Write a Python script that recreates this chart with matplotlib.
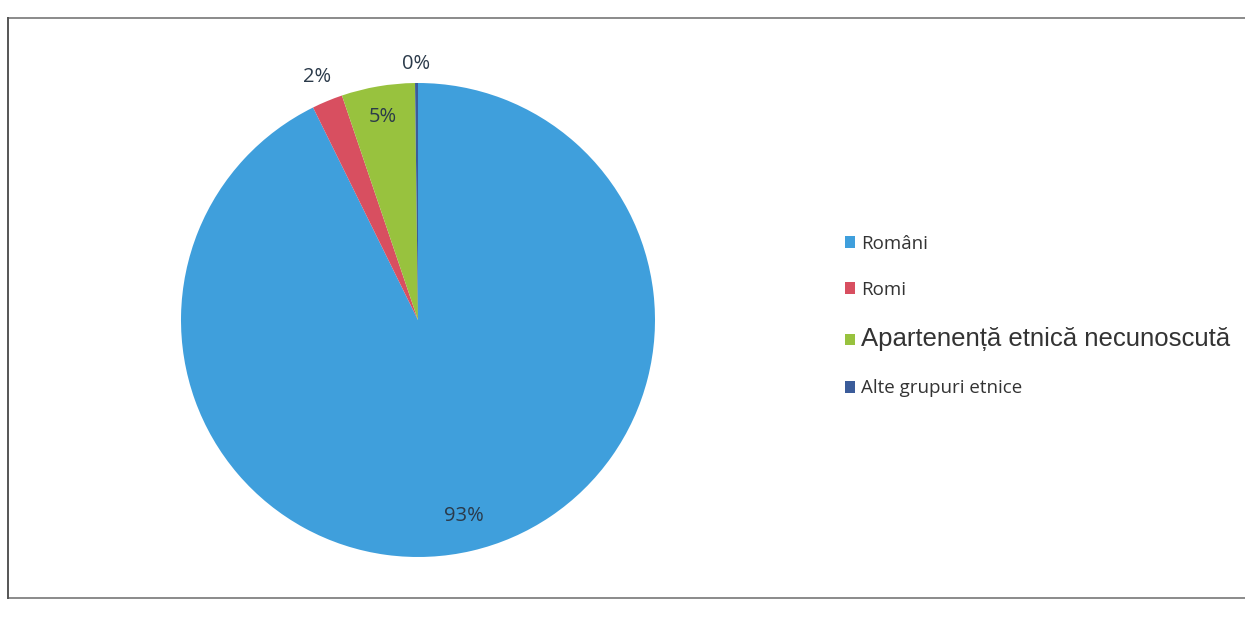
import numpy as np
import matplotlib.pyplot as plt
from matplotlib.lines import Line2D
from matplotlib.patches import Patch

# ethnic structure shares
labels = ["Români", "Romi", "Apartenență etnică necunoscută", "Alte grupuri etnice"]
values = [92.7, 2.1, 5.0, 0.2]
pct_text = ["93%", "2%", "5%", "0%"]
colors = ["#3f9fdc", "#d84f60", "#98c23e", "#3b5c9a"]

W, H = 1245, 624
fig = plt.figure(figsize=(W / 100, H / 100), dpi=100)

# pie centre ~ (418, 320) px, radius ~ 237 px
cx, cy, r = 418, 320, 237
ax = fig.add_axes([(cx - r) / W, (H - cy - r) / H, 2 * r / W, 2 * r / H])
wedges, _ = ax.pie(values, colors=colors, startangle=90, counterclock=False,
                   radius=1, wedgeprops=dict(linewidth=0))
ax.set_xlim(-1, 1)
ax.set_ylim(-1, 1)
ax.set_aspect("equal")
ax.axis("off")

# data labels: inside for big slices, just outside for thin ones
dist = [0.85, 1.11, 0.87, 1.08]
for w, t, d in zip(wedges, pct_text, dist):
    ang = np.deg2rad((w.theta1 + w.theta2) / 2)
    ax.text(d * np.cos(ang), d * np.sin(ang), t, ha="center", va="center",
            fontsize=14.5, color="#2b3a4a", family="Open Sans", clip_on=False)

handles = [Patch(facecolor=c, edgecolor="none") for c in colors]
leg = fig.legend(handles, labels, loc="center left", bbox_to_anchor=(828 / W, 1 - 316 / H),
                 frameon=False, fontsize=13.5, handlelength=0.55, handleheight=0.6,
                 handletextpad=0.3, labelspacing=1.5)
for i, txt in enumerate(leg.get_texts()):
    txt.set_color("#333333")
    if i == 2:
        txt.set_family("Liberation Sans")
        txt.set_fontsize(18.5)
    else:
        txt.set_family("Open Sans")

# outer frame of the scanned chart
fx0, fx1 = 8 / W, 1.0
fy0, fy1 = 1 - 598 / H, 1 - 18 / H
fig.add_artist(Line2D([fx0, fx1], [fy1, fy1], color="#777777", lw=1.2))
fig.add_artist(Line2D([fx0, fx1], [fy0, fy0], color="#777777", lw=1.2))
fig.add_artist(Line2D([fx0, fx0], [fy0, fy1], color="#555555", lw=1.4))

fig.savefig("out.png", dpi=100)
